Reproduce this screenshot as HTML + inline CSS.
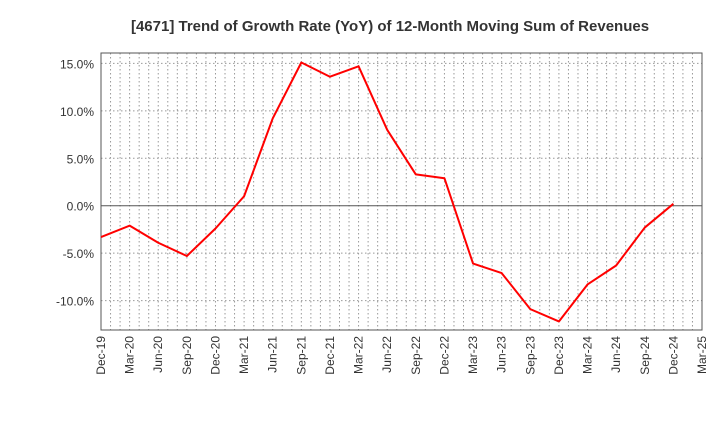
<!DOCTYPE html>
<html><head><meta charset="utf-8"><style>
body{margin:0;background:#fff;font-family:"Liberation Sans",sans-serif}
</style></head><body>
<svg id="chart" width="720" height="440" xmlns="http://www.w3.org/2000/svg" font-family="Liberation Sans, sans-serif">
<text x="390" y="31" text-anchor="middle" font-size="15" font-weight="bold" fill="#333">[4671]  Trend of Growth Rate (YoY) of 12-Month Moving Sum of Revenues</text>
<g id="grid"></g><g id="axes"></g><g id="series"></g>
</svg>
<script>
const categories=["Dec-19","Mar-20","Jun-20","Sep-20","Dec-20","Mar-21","Jun-21","Sep-21","Dec-21","Mar-22","Jun-22","Sep-22","Dec-22","Mar-23","Jun-23","Sep-23","Dec-23","Mar-24","Jun-24","Sep-24","Dec-24","Mar-25"];
const values=[-3.3,-2.1,-3.9,-5.3,-2.4,1.0,9.2,15.1,13.6,14.7,8.0,3.3,2.9,-6.1,-7.1,-10.9,-12.2,-8.3,-6.3,-2.3,0.2];
const yTicks=[15,10,5,0,-5,-10];
const yTickLabels=["15.0%","10.0%","5.0%","0.0%","-5.0%","-10.0%"];
const L=101,R=702,T=53,B=330,yMin=-13.1,yMax=16.1;
const NS="http://www.w3.org/2000/svg";
const xs=i=>L+(R-L)*i/(categories.length-1);
const ys=v=>B-(v-yMin)/(yMax-yMin)*(B-T);
function mk(tag,attrs,parent){const e=document.createElementNS(NS,tag);for(const k in attrs)e.setAttribute(k,attrs[k]);document.getElementById(parent).appendChild(e);return e;}
// monthly vertical grid
for(let m=1;m<(categories.length-1)*3;m++){const x=L+(R-L)*m/((categories.length-1)*3);
const g=mk("line",{x1:x,x2:x,y1:T,y2:B,stroke:"#999","stroke-dasharray":"1.5,2.5","stroke-width":1},"grid");

}
yTicks.forEach((v,i)=>{const y=ys(v);
const g=mk("line",{x1:L,x2:R,y1:y,y2:y,stroke:v===0?"#555":"#999","stroke-dasharray":v===0?"none":"1.5,2.5","stroke-width":1},"grid");


const t=mk("text",{x:L-7,y:y+5,"text-anchor":"end","font-size":12,fill:"#333"},"axes");t.textContent=yTickLabels[i];

});
const fr=mk("rect",{x:L,y:T,width:R-L,height:B-T,fill:"none",stroke:"#555","stroke-width":1},"axes");


categories.forEach((c,i)=>{const x=xs(i)+4;
const t=mk("text",{x:x,y:B+6,"text-anchor":"end","font-size":12,fill:"#333",transform:`rotate(-90 ${x} ${B+6})`},"axes");t.textContent=c;

});
const pl=mk("polyline",{points:values.map((v,i)=>xs(i)+","+ys(v)).join(" "),fill:"none",stroke:"#ff0000","stroke-width":2,"stroke-linejoin":"round"},"series");


</script>
</body></html>
